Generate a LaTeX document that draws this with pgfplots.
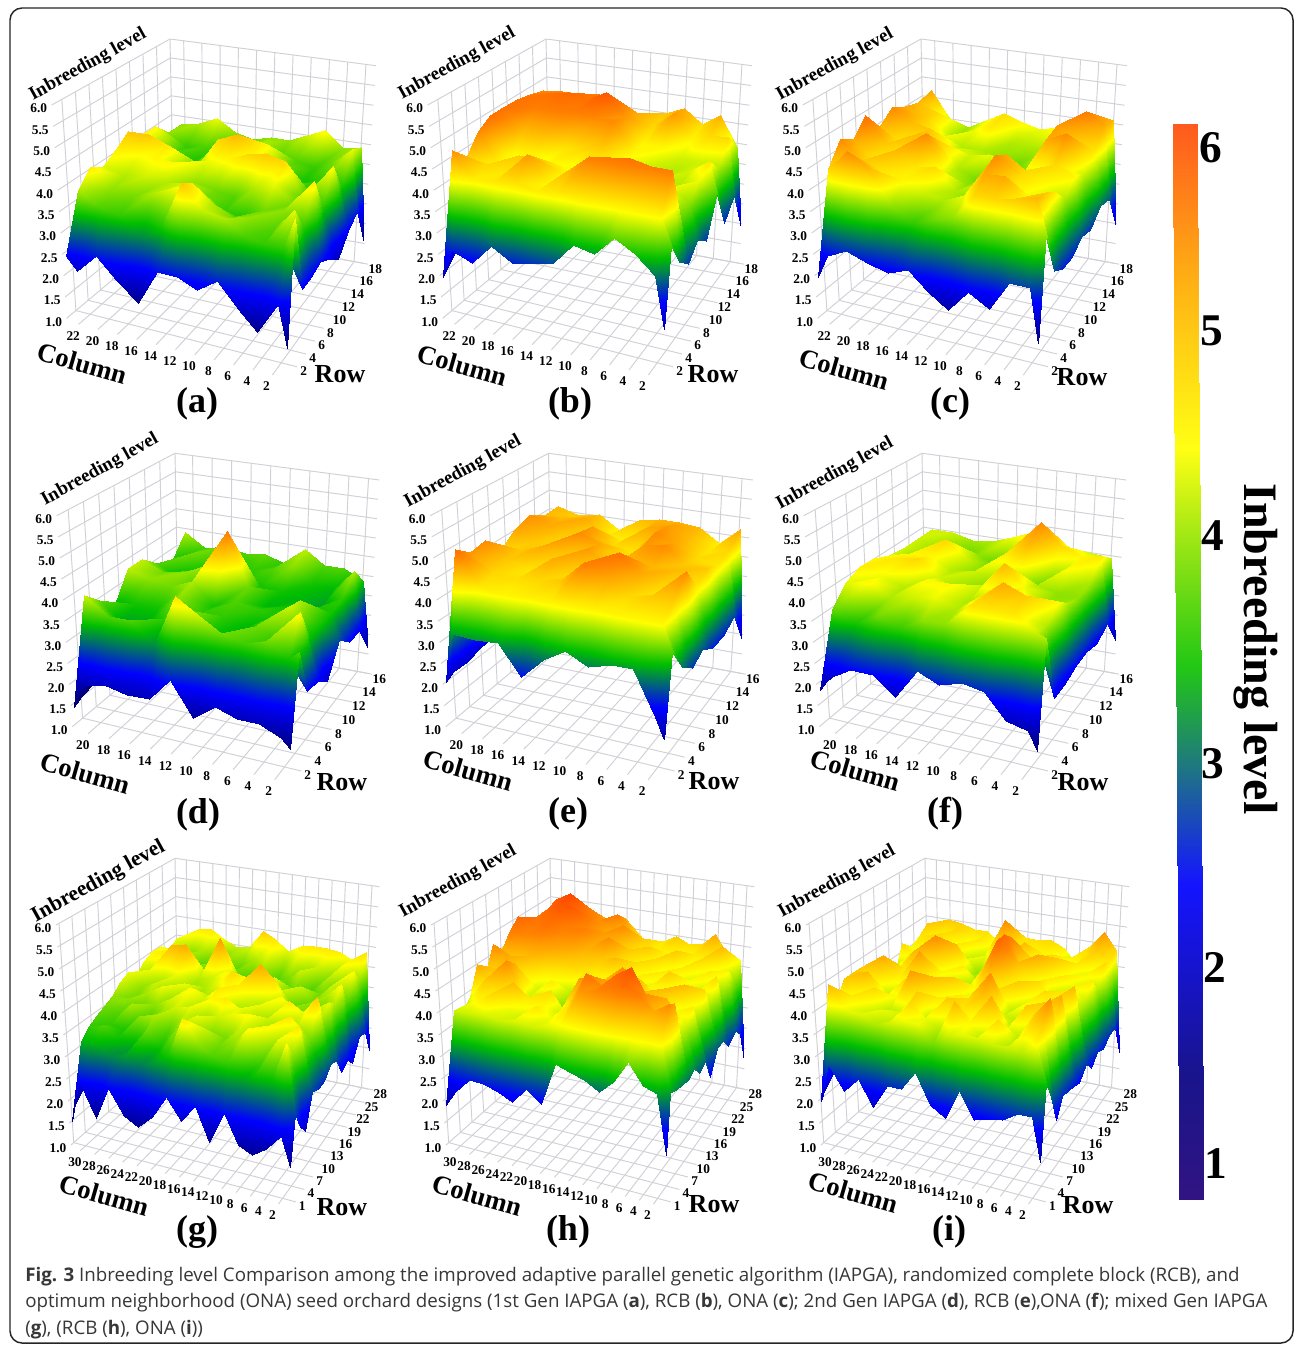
\documentclass[border=0pt]{standalone}
\usepackage{fontspec}
\setmainfont{Liberation Serif}
\newfontfamily\capfont{Open Sans}
\usepackage{pgfplots}
\pgfplotsset{compat=1.18}
\definecolor{gl}{RGB}{208,208,214}
\definecolor{captxt}{RGB}{55,55,55}
\newcommand\setgeom[1]{%
 \ifcase#1\relax\or
 \def\Ax{66.7}\def\Ay{318.3}\def\Bx{285}\def\By{375}\def\Cx{363.3}\def\Cy{263.3}\def\Dx{174}\def\Dy{228.3}%
 \def\Ex{51.7}\def\Ey{105}\def\Fx{376}\def\Fy{65.7}\def\Gx{170}\def\Gy{39}\def\Hx{292}\def\Hy{141.7}%
 \or
 \def\Ax{72.3}\def\Ay{726.7}\def\Bx{288}\def\By{780}\def\Cx{367.3}\def\Cy{673.3}\def\Dx{178.5}\def\Dy{638}%
 \def\Ex{56.7}\def\Ey{515.7}\def\Fx{379.3}\def\Fy{480}\def\Gx{175}\def\Gy{453.3}\def\Hx{295.5}\def\Hy{549.7}%
 \or
 \def\Ax{71}\def\Ay{1145}\def\Bx{288.3}\def\By{1203.3}\def\Cx{368.3}\def\Cy{1089}\def\Dx{178.5}\def\Dy{1050}%
 \def\Ex{56}\def\Ey{925}\def\Fx{379.3}\def\Fy{886.7}\def\Gx{175}\def\Gy{858.3}\def\Hx{295.5}\def\Hy{965.7}%
 \fi}
% position of a point of the box (u,v,w in 0..1) on the page, in reference pixels
\newcommand\project[3]{%
 \pgfmathsetmacro\PX{\dX+(1-(#3))*((1-(#2))*((1-(#1))*\Ax+(#1)*\Bx)+(#2)*((1-(#1))*\Dx+(#1)*\Cx))+(#3)*((1-(#2))*((1-(#1))*\Ex+(#1)*\Hx)+(#2)*((1-(#1))*\Gx+(#1)*\Fx))}%
 \pgfmathsetmacro\PY{(1-(#3))*((1-(#2))*((1-(#1))*\Ay+(#1)*\By)+(#2)*((1-(#1))*\Dy+(#1)*\Cy))+(#3)*((1-(#2))*((1-(#1))*\Ey+(#1)*\Hy)+(#2)*((1-(#1))*\Gy+(#1)*\Fy))}}
\newcount\ci \newcount\cj
% #1 columns, #2 rows, #3 v of row 2, #4 v of row 1, #5 values: back row first, left to right
\newcommand\surfacepanel[5]{%
 \gdef\coordbuf{}\global\ci=0 \global\cj=0
 \foreach \val in {#5}{%
  \ifnum\ci=0 \def\uu{0}\else\ifnum\ci=\numexpr#1-1\relax\def\uu{0.995}\else
   \pgfmathsetmacro\uu{0.045+0.905*(\the\ci-1)/(#1-3)}\fi\fi
  \ifnum\cj=\numexpr#2-1\relax\def\vv{#4}\else
   \pgfmathsetmacro\vv{1-(1-#3)*\the\cj/(#2-2)}\fi
  \pgfmathsetmacro\ww{(\val-1)/5}%
  \project\uu\vv\ww
  \xdef\coordbuf{\coordbuf (\PX,\PY) [\val]}%
  \global\advance\ci by 1
  \ifnum\ci=#1\relax\global\ci=0 \global\advance\cj by 1 \fi
 }%
 \edef\doplot{\noexpand\addplot[surf,shader=interp,colormap name=S,mesh/rows=#2,mesh/cols=#1,mesh/ordering=x varies,point meta=explicit] coordinates {\coordbuf};}\doplot
}
% #1 column ticks, #2 #3 column -> u, #4 row ticks, #5 #6 row -> v
\newcommand\panelframe[6]{%
 \foreach \cc in {#1}{%
  \pgfmathsetmacro\uu{(#2-\cc)/#3}%
  \project\uu{-0.025}{0}\let\xa\PX\let\ya\PY
  \project\uu{1}{0}\let\xb\PX\let\yb\PY
  \project\uu{1}{1}\draw[gl,line width=.7pt] (\xa,\ya)--(\xb,\yb)--(\PX,\PY);
  \project\uu{0}{0}\node[tk] at ({\PX-8},{\PY+14}) {\cc};
 }
 \foreach \rr in {#4}{%
  \pgfmathsetmacro\vv{(\rr-#5)/#6}%
  \project{1.025}\vv{0}\let\xa\PX\let\ya\PY
  \project{0}\vv{0}\let\xb\PX\let\yb\PY
  \project{0}\vv{1}\draw[gl,line width=.7pt] (\xa,\ya)--(\xb,\yb)--(\PX,\PY);
  \project{1}\vv{0}\node[tk] at ({\PX+12},{\PY+5.5}) {\rr};
 }
 \foreach \zz in {1.0,1.5,2.0,2.5,3.0,3.5,4.0,4.5,5.0,5.5,6.0}{%
  \pgfmathsetmacro\ww{(\zz-1)/5}%
  \project{0}{0}\ww\let\xa\PX\let\ya\PY
  \project{0}{1}\ww\let\xb\PX\let\yb\PY
  \project{1}{1}\ww\draw[gl,line width=.7pt] (\xa,\ya)--(\xb,\yb)--(\PX,\PY);
  \node[tk] at ({\xa-13},{\ya+3.5}) {\zz};
 }
}
\def\inbfs{14.2}
\newcommand\paneltext[9]{%
 \node[rotate=29,font=\fontsize{\inbfs}{15}\selectfont\bfseries] at (#1,#2+2) {Inbreeding level};
 \node[rotate=-16,font=\fontsize{20}{21}\selectfont\bfseries] at (#3,#4) {Column};
 \node[font=\fontsize{19.5}{21}\selectfont\bfseries] at (#5,#6) {Row};
 \node[font=\fontsize{27}{28}\selectfont\bfseries] at (#7,#8+2) {#9};
}
\begin{document}
\begin{tikzpicture}[x=0.75pt,y=-0.75pt,tk/.style={font=\fontsize{10}{11}\selectfont\bfseries,inner sep=0pt}]
\useasboundingbox (0,0) rectangle (1295,1345);
\fill[white] (0,0) rectangle (1295,1345);
\draw[black!85,line width=1.1pt,rounded corners=9pt] (10,8) rectangle (1293,1343);
\def\dX{0}
\setgeom{1}\def\dX{0}\panelframe{22,20,...,2}{23.5}{22.6}{2,4,...,18}{0.5}{17.5}
\def\dX{376}\panelframe{22,20,...,2}{23.5}{22.6}{2,4,...,18}{0.5}{17.5}
\def\dX{751}\panelframe{22,20,...,2}{23.5}{22.6}{2,4,...,18}{0.5}{17.5}
\setgeom{2}\def\dX{0}\panelframe{20,18,...,2}{21.8}{20.9}{2,4,...,16}{0.5}{15.5}
\def\dX{373.5}\panelframe{20,18,...,2}{21.8}{20.9}{2,4,...,16}{0.5}{15.5}
\def\dX{747}\panelframe{20,18,...,2}{21.8}{20.9}{2,4,...,16}{0.5}{15.5}
\setgeom{3}\def\dX{0}\panelframe{30,28,...,2}{31.7}{30.8}{1,4,...,28}{0.3}{27.7}
\def\dX{375}\panelframe{30,28,...,2}{31.7}{30.8}{1,4,...,28}{0.3}{27.7}
\def\dX{750}\panelframe{30,28,...,2}{31.7}{30.8}{1,4,...,28}{0.3}{27.7}
\begin{axis}[at={(0,0)},anchor=north west,hide axis,scale only axis,
 width=971.25pt,height=1008.75pt,xmin=0,xmax=1295,ymin=0,ymax=1345,y dir=reverse,clip=false,
 point meta min=0.8,point meta max=6.1,
 colormap={B}{rgb255(82pt)=(50,20,130);rgb255(147pt)=(25,20,140);rgb255(242pt)=(20,20,255);rgb255(295pt)=(30,110,140);rgb255(344pt)=(34,200,20);rgb255(443pt)=(255,255,20);rgb255(533pt)=(255,170,20);rgb255(610pt)=(255,90,30)},
 colormap={S}{rgb255(80pt)=(0,0,90);rgb255(160pt)=(0,0,125);rgb255(245pt)=(0,0,255);rgb255(335pt)=(0,190,0);rgb255(415pt)=(255,255,0);rgb255(450pt)=(255,200,0);rgb255(495pt)=(255,130,0);rgb255(550pt)=(255,70,0);rgb255(610pt)=(255,60,0)},
]
\addplot[surf,shader=interp,colormap name=B,mesh/rows=7,mesh/cols=2,mesh/ordering=x varies,point meta=explicit] coordinates {
(1172.7,124)[6.1] (1197.3,124)[6.1]
(1173.9,331)[5] (1198.4,331)[5]
(1175.1,536)[4] (1199.5,536)[4]
(1176.5,764)[3] (1200.7,764)[3]
(1177.7,967)[2] (1201.8,967)[2]
(1178.8,1164)[1] (1202.8,1164)[1]
(1179,1199)[0.82] (1203,1199)[0.82]
};
\setgeom{1}\def\dX{0}
\surfacepanel{13}{10}{0.086}{0.03}{
2.5,3.8,3.9,4.1,3.8,3.7,3.8,3.8,4.0,4.2,3.8,3.9,1.5,
2.5,3.8,3.5,3.6,3.4,3.7,3.9,3.6,3.6,3.5,3.7,4.1,2.6,
2.5,4.2,3.6,3.4,3.8,3.9,4.0,4.2,3.7,3.4,3.5,3.4,2.4,
2.5,4.2,4.0,3.4,3.7,4.4,4.6,4.2,3.8,3.6,3.4,4.2,2.0,
2.5,4.5,4.5,4.3,3.6,4.1,4.2,4.4,4.5,4.4,3.6,3.5,2.3,
2.5,4.25,4.1,4.2,4.2,3.8,3.7,3.6,3.9,4.1,3.7,4.3,2.5,
2.4,4.05,3.9,4.0,3.9,4.0,3.7,3.5,3.4,3.7,3.8,3.5,2.4,
2.4,4.25,3.8,3.7,3.9,4.1,4.3,3.9,3.7,3.8,3.6,4.1,2.4,
2.3,3.9,3.6,3.5,3.1,3.4,4.5,4.0,3.9,3.6,3.5,3.5,4.2,
2.4,2.1,2.56,2.1,1.7,2.5,2.5,2.3,2.6,2.1,1.7,2.4,1.5}
\def\dX{376}
\surfacepanel{13}{10}{0.086}{0.03}{
2.8,4.2,4.2,4.7,4.6,4.2,4.25,4.5,4.7,4.35,4.65,3.9,1.9,
2.8,4.9,4.95,4.95,5.0,4.9,4.7,4.4,4.8,4.2,4.4,4.4,3.0,
2.8,5.0,5.1,5.2,5.1,5.35,4.8,4.2,4.2,4.0,4.0,3.9,2.6,
2.8,5.1,5.0,5.0,5.0,4.9,4.9,4.2,4.0,3.9,4.0,4.3,3.6,
2.8,5.1,4.6,4.6,4.3,4.4,4.5,4.0,3.8,4.0,3.9,4.1,2.7,
2.7,5.1,4.1,4.0,4.2,4.1,3.8,4.0,3.9,4.3,4.1,3.8,3.0,
2.6,4.9,4.2,4.5,4.5,4.3,4.0,4.3,4.2,4.0,4.3,3.6,2.7,
2.4,4.45,4.4,4.3,4.8,4.2,4.6,5.0,5.05,5.1,5.0,5.0,3.0,
2.1,4.85,4.25,4.3,4.35,4.25,4.3,4.3,4.25,4.2,4.2,4.2,3.6,
1.9,2.6,2.4,2.9,2.6,2.7,2.8,3.3,3.2,3.65,3.4,3.0,1.9}
\def\dX{751}
\surfacepanel{13}{10}{0.086}{0.03}{
2.8,4.7,4.0,3.85,4.1,4.35,4.2,4.1,4.2,4.3,4.2,4.6,1.95,
2.8,4.6,4.4,3.8,4.1,4.3,3.9,3.9,3.9,4.1,5.0,4.7,2.9,
2.8,4.7,4.5,4.1,3.9,3.9,3.8,3.7,3.9,4.8,4.5,4.3,3.0,
2.8,4.9,4.6,4.5,4.1,4.0,4.1,3.6,3.7,4.7,4.9,4.0,2.7,
2.8,4.6,4.3,4.6,4.5,3.9,3.7,3.9,3.8,3.9,4.4,4.2,2.8,
2.7,5.1,4.5,4.3,4.9,4.0,3.8,4.0,4.7,4.4,4.2,3.9,2.6,
2.6,4.7,4.3,4.6,4.3,4.4,3.9,3.7,4.9,4.3,4.0,4.3,2.6,
2.5,4.9,4.5,4.3,4.2,4.0,3.9,4.1,4.7,4.7,4.1,4.5,2.8,
2.2,4.4,4.9,4.6,3.8,3.5,3.7,3.8,4.4,4.4,4.5,4.6,3.9,
1.9,2.45,2.67,2.5,2.37,2.55,2.15,1.87,2.37,2.1,2.75,2.75,1.6}
\setgeom{2}\def\dX{0}
\surfacepanel{12}{9}{0.097}{0.03}{
1.8,3.9,3.55,3.7,3.6,3.65,3.5,3.95,3.6,3.6,3.35,1.65,
1.8,3.35,3.7,3.5,3.4,3.5,3.6,3.8,3.4,3.3,3.9,2.4,
1.8,3.6,3.3,3.6,3.9,3.4,3.4,3.4,3.3,3.2,3.5,2.45,
1.8,3.95,3.7,3.8,3.5,5.0,3.7,3.3,3.4,3.4,3.4,2.8,
1.8,3.95,3.8,3.7,3.9,3.4,3.6,3.5,3.4,3.9,3.4,2.1,
1.7,3.3,3.4,3.4,3.8,3.5,3.5,3.3,3.6,4.0,3.3,2.4,
1.6,3.65,3.2,3.2,3.5,3.8,3.4,3.2,3.7,3.5,4.2,2.45,
1.5,4.0,3.6,3.6,3.1,4.35,4.0,3.7,3.55,3.7,3.4,3.6,
1.4,1.95,2.1,1.97,2.0,2.55,1.8,2.15,2.0,2.0,1.8,1.6}
\def\dX{373.5}
\surfacepanel{12}{9}{0.097}{0.03}{
2.2,4.6,4.45,4.55,4.2,4.55,4.65,4.65,4.6,4.25,4.7,1.85,
2.2,4.6,4.6,4.7,4.3,4.2,4.7,4.8,4.6,4.3,4.4,2.8,
2.2,4.85,4.7,4.4,4.8,4.4,4.3,4.9,4.7,4.4,4.3,2.6,
2.2,4.7,4.5,4.4,4.9,4.7,4.2,4.8,4.9,4.5,4.5,2.6,
2.2,4.4,4.5,4.7,4.3,4.8,4.4,4.6,4.6,4.6,4.3,2.85,
2.2,4.9,4.5,4.3,4.7,4.4,4.8,5.1,4.7,4.3,4.9,2.7,
2.1,4.8,4.4,4.35,4.4,4.5,5.0,4.7,4.4,4.5,4.5,3.0,
2.1,5.1,4.3,4.2,4.25,4.2,4.2,4.25,4.2,4.2,4.2,3.6,
2.0,3.2,3.15,3.2,2.5,3.0,3.3,3.05,3.2,3.2,2.25,1.8}
\def\dX{747}
\surfacepanel{12}{9}{0.097}{0.03}{
2.0,4.0,4.0,3.85,3.9,4.1,4.3,3.9,4.0,4.0,3.95,1.85,
2.0,4.0,3.8,3.6,3.8,3.6,4.1,4.9,4.4,4.2,4.3,2.6,
2.0,4.0,3.6,4.4,4.0,3.7,4.3,4.6,3.7,4.2,3.9,2.4,
2.0,4.05,4.2,4.2,3.9,4.0,3.8,3.7,3.9,3.8,3.8,2.5,
2.0,4.2,4.3,4.4,4.0,3.8,4.0,4.6,4.1,3.8,3.9,2.45,
2.0,4.25,4.1,3.9,4.2,4.2,3.9,4.0,4.3,3.9,4.2,2.3,
1.9,4.05,4.2,3.9,4.0,4.1,3.9,4.3,4.7,4.5,3.9,2.3,
1.9,3.65,3.4,3.7,3.5,3.8,3.8,4.3,4.3,4.3,4.0,3.9,
1.8,2.15,2.45,2.45,2.05,2.75,2.55,2.7,2.6,2.05,1.95,1.55}
\setgeom{3}\def\dX{0}
\surfacepanel{17}{15}{0.06}{0.025}{
2.6,3.95,4.25,4.3,4.1,3.95,4.0,4.45,4.3,4.05,4.25,4.3,4.3,4.25,4.1,4.35,1.95,
2.6,4.1,3.7,3.9,3.6,3.8,3.7,3.9,4.1,3.7,4.0,3.8,4.0,3.8,4.2,3.8,2.6,
2.6,4.0,3.9,3.5,3.8,3.5,3.7,3.6,3.8,3.5,3.7,4.0,3.6,3.9,3.5,4.2,2.65,
2.6,4.2,3.6,3.8,3.4,3.6,3.4,3.7,3.5,3.8,3.4,3.7,3.5,3.7,4.0,3.6,2.2,
2.6,4.2,4.3,3.9,3.7,3.9,4.8,4.0,3.7,3.6,4.1,3.6,4.0,3.7,3.9,4.2,2.45,
2.5,4.1,3.8,4.6,4.7,3.9,4.0,4.2,3.9,4.1,3.7,4.0,3.6,3.8,3.6,3.9,2.35,
2.5,3.9,4.1,3.9,4.1,3.8,3.9,4.1,4.4,4.0,4.7,4.4,3.8,3.7,3.9,4.1,2.8,
2.5,4.1,3.8,4.0,3.7,4.1,3.8,3.9,4.2,4.3,4.0,3.8,4.2,3.9,3.7,3.9,2.85,
2.5,4.0,3.7,3.9,4.1,3.7,4.2,4.0,4.3,3.9,3.8,4.1,3.9,4.3,4.1,4.5,2.65,
2.4,3.8,3.8,3.6,3.8,4.0,4.1,3.8,4.2,4.3,4.1,3.7,4.0,3.7,3.9,3.7,2.65,
2.3,3.7,3.6,3.9,3.5,3.8,4.0,4.1,3.7,4.0,4.1,4.2,3.8,4.0,4.3,3.8,2.75,
2.2,3.6,3.5,3.4,3.8,3.9,3.6,3.9,4.1,3.7,3.7,4.0,3.7,4.2,3.7,4.3,2.05,
2.0,3.5,3.6,3.4,3.2,3.7,3.4,3.8,3.6,4.0,3.7,3.8,4.2,3.6,4.1,3.8,2.3,
1.8,3.3,3.3,3.1,3.2,3.0,3.2,3.4,4.3,3.8,3.6,3.5,3.2,3.4,3.3,4.2,2.75,
1.5,2.45,1.7,2.45,1.9,1.75,2.05,2.55,2.1,2.5,1.8,2.5,1.9,1.75,1.95,2.3,1.7}
\def\dX{375}
\surfacepanel{17}{15}{0.06}{0.025}{
2.7,4.8,4.7,4.3,4.65,4.6,4.75,4.4,4.1,4.3,4.5,4.35,4.4,4.7,4.2,4.15,1.7,
2.7,4.8,4.9,4.8,5.0,4.8,5.0,4.6,4.5,4.2,4.2,4.1,4.3,4.2,4.6,3.8,2.55,
2.7,4.8,5.3,5.5,5.1,4.9,4.7,4.9,4.3,4.5,4.1,4.5,4.0,4.4,4.0,4.2,2.8,
2.7,4.7,5.2,5.4,5.3,4.9,4.8,4.6,4.5,4.2,4.4,4.0,4.3,3.9,4.3,3.7,2.6,
2.7,4.9,5.1,5.2,5.0,5.0,4.7,4.9,4.3,4.4,4.1,4.3,3.9,4.2,4.0,4.4,2.9,
2.7,5.2,5.0,5.1,4.9,4.8,4.6,4.5,4.6,4.0,4.3,3.9,4.5,3.8,4.1,3.9,2.9,
2.6,5.0,4.9,4.8,4.7,4.5,4.4,4.2,3.9,4.2,3.8,4.2,3.9,4.3,3.7,4.4,2.4,
2.6,4.65,4.5,4.6,4.2,4.1,3.9,3.8,4.1,4.4,4.2,4.5,4.1,3.9,4.6,3.8,2.95,
2.6,4.9,4.7,4.2,4.0,4.3,3.8,3.7,3.9,4.6,4.9,4.3,4.2,4.6,3.9,4.3,2.85,
2.5,4.4,4.5,4.7,4.0,3.9,3.7,3.6,4.3,4.4,4.7,4.9,4.6,4.3,4.2,4.0,3.1,
2.4,4.7,4.3,4.9,4.2,4.0,4.4,3.9,4.8,4.9,4.6,5.0,4.9,4.5,4.7,3.9,3.0,
2.3,4.05,4.5,4.3,4.6,4.3,4.2,4.0,4.4,5.1,4.9,5.2,5.4,4.9,4.5,4.8,3.05,
2.1,3.9,4.2,4.4,4.1,4.0,4.3,4.1,4.3,4.8,4.9,5.0,5.2,5.0,4.7,4.9,3.1,
2.0,4.0,4.0,4.05,4.0,4.05,4.0,4.05,4.1,4.15,4.2,4.2,4.25,4.2,4.2,4.2,3.2,
1.85,2.2,2.55,2.55,2.45,2.3,2.65,2.4,3.35,3.25,3.15,2.95,3.25,3.75,3.3,3.2,1.95}
\def\dX{750}
\surfacepanel{17}{15}{0.06}{0.025}{
2.8,4.25,4.5,4.45,4.35,4.35,4.1,4.5,4.35,4.35,4.4,4.25,3.9,4.4,4.8,4.4,1.9,
2.8,4.5,4.2,4.4,4.1,4.3,4.0,4.9,4.3,4.2,4.2,4.1,4.2,4.3,4.5,4.3,2.7,
2.8,4.3,4.4,4.0,4.3,3.9,4.1,4.4,4.0,4.6,3.9,4.4,3.9,4.3,4.0,4.4,2.7,
2.8,4.2,3.9,4.2,3.8,4.1,3.8,3.9,4.3,4.0,4.4,4.0,4.5,3.9,4.2,3.9,2.55,
2.8,4.4,4.1,4.6,4.0,4.6,3.9,3.7,4.1,5.0,4.2,4.7,4.0,4.3,3.9,4.3,2.65,
2.7,3.8,4.3,4.1,4.9,4.0,4.3,3.8,4.0,5.2,4.6,4.0,4.3,3.8,4.2,4.0,2.45,
2.7,3.9,4.0,4.6,4.1,4.2,3.7,4.0,4.5,5.2,4.3,3.9,4.4,4.0,4.3,3.9,2.7,
2.7,4.4,4.1,4.3,4.8,3.9,4.2,3.7,4.2,4.6,4.0,4.5,3.9,4.4,4.1,4.6,2.45,
2.7,4.0,4.7,4.2,4.0,4.4,4.0,4.5,3.9,4.1,4.4,3.9,4.2,4.0,4.4,4.0,2.55,
2.7,4.5,4.2,3.9,4.4,3.9,4.6,3.9,4.3,3.9,4.9,4.0,3.9,4.2,4.5,4.7,2.6,
2.6,4.5,4.6,4.0,4.1,4.8,4.0,4.3,4.0,4.4,4.6,4.1,3.9,4.5,4.1,4.2,2.65,
2.5,4.5,4.1,4.4,3.9,4.0,4.5,3.8,4.5,4.3,4.0,4.7,4.0,3.9,4.5,4.9,2.3,
2.3,4.15,4.3,4.0,4.1,4.0,4.4,4.1,3.9,4.6,4.2,3.9,4.4,3.9,4.3,4.5,2.95,
2.1,4.6,4.1,4.05,3.9,4.0,4.1,4.1,3.7,4.0,4.1,4.05,4.0,4.0,3.9,4.2,3.4,
1.95,2.85,2.3,2.65,2.1,2.65,2.65,3.1,2.45,2.25,2.9,2.35,2.45,2.5,2.7,2.7,1.8}
\end{axis}
\paneltext{88}{63}{82}{363}{340}{374}{197}{402}{(a)}
\paneltext{457}{62}{462}{365}{713}{374}{570}{402}{(b)}
\paneltext{835}{63}{844}{369}{1082}{377}{950}{402}{(c)}
\paneltext{100}{468}{85}{773}{342}{782}{198}{813}{(d)}
\paneltext{463}{470}{468}{770}{714}{781}{568}{812}{(e)}
\paneltext{835}{472}{855}{770}{1083}{782}{945}{812}{(f)}
\def\inbfs{16.2}
\paneltext{98.5}{880}{104}{1195}{342}{1207}{197}{1230}{(g)}
\def\inbfs{14.2}
\paneltext{458}{880}{477}{1195}{714}{1204}{568}{1230}{(h)}
\paneltext{837}{880}{853}{1192}{1088}{1205}{949}{1230}{(i)}
\foreach \tx/\ty/\tl in {1211/148/6,1212/331/5,1213/536/4,1213/764/3,1215/967/2,1216/1164/1}{
 \node[font=\fontsize{34}{35}\selectfont\bfseries] at (\tx,\ty) {\tl};}
\node[rotate=-90,font=\fontsize{36}{37}\selectfont\bfseries] at (1256,649) {Inbreeding level};
\begin{scope}[every node/.style={anchor=west,inner sep=0pt,text=captxt,font=\capfont\fontsize{14.05}{16}\selectfont}]
\node at (25,1276.5) {\textbf{Fig. 3} Inbreeding level Comparison among the improved adaptive parallel genetic algorithm (IAPGA), randomized complete block (RCB), and};
\node at (25,1302.5) {optimum neighborhood (ONA) seed orchard designs (1st Gen IAPGA (\textbf{a}), RCB (\textbf{b}), ONA (\textbf{c}); 2nd Gen IAPGA (\textbf{d}), RCB (\textbf{e}),ONA (\textbf{f}); mixed Gen IAPGA};
\node at (25,1329.5) {(\textbf{g}), (RCB (\textbf{h}), ONA (\textbf{i}))};
\end{scope}
\end{tikzpicture}
\end{document}
